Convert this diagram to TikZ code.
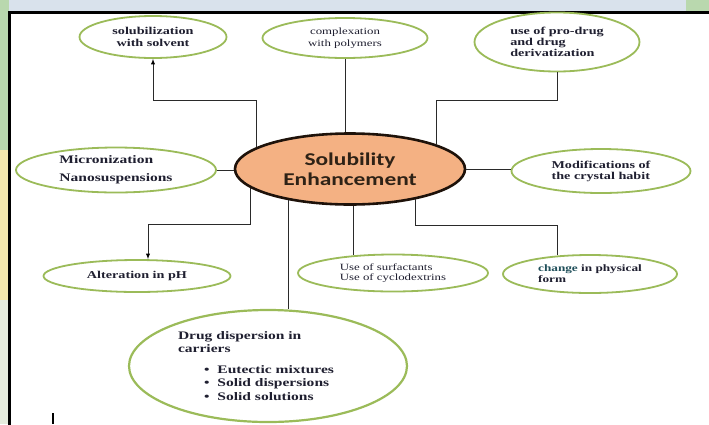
\documentclass[tikz,border=0pt]{standalone}
\usepackage{fontspec}
\newfontfamily\lblfont[FakeStretch=1.35]{Liberation Serif}
\newfontfamily\hubfont[FakeStretch=1.3]{Carlito}
\newcommand\lblsize[2]{\lblfont\fontsize{#1}{#2}\selectfont}
\usepackage{tikz}
\usetikzlibrary{shapes.geometric,arrows}

\definecolor{ideagreen}{HTML}{9BBB59}
\definecolor{hubfill}{HTML}{F4B183}
\definecolor{hubline}{HTML}{1E120A}
\definecolor{hubtext}{HTML}{2E2216}
\definecolor{labeltext}{HTML}{1F1F30}
\definecolor{chgteal}{HTML}{1F4F5A}
\definecolor{linkgrey}{HTML}{2A2A2A}
\definecolor{topstrip}{HTML}{D9E2EC}
\definecolor{edgegreen}{HTML}{B9D8AE}
\definecolor{edgeyellow}{HTML}{F3E7AE}
\definecolor{edgepale}{HTML}{E6ECDD}

\begin{document}
\begin{tikzpicture}[x=1pt, y=-1pt,
  idea/.style={ellipse, draw=ideagreen, line width=1.8pt, fill=white, inner sep=0pt, text=labeltext},
  hub/.style={ellipse, draw=hubline, line width=2.6pt, fill=hubfill, inner sep=0pt, text=hubtext,
    align=center, font={\hubfont\bfseries\fontsize{18}{20}\selectfont}},
  link/.style={draw=linkgrey, line width=0.9pt}]
  \clip (0,0) rectangle (709,424);
  % backdrop round the frame
  \fill[topstrip] (0,0) rectangle (709,12);
  \fill[edgegreen] (686,0) rectangle (709,12);
  \fill[edgegreen] (0,0) rectangle (9,150);
  \fill[edgeyellow] (0,150) rectangle (9,300);
  \fill[edgepale] (0,300) rectangle (9,424);
  \fill[white] (9,12) rectangle (709,424);
  \draw[line width=3pt] (9,440) -- (9,12) -- (720,12);

  \node[hub, minimum width=230pt, minimum height=71pt] (cen) at (350,169) {Solubility\\Enhancement};

  \node[idea, minimum width=147pt, minimum height=42pt, align=center,
        font={\lblsize{10.5}{12}\bfseries}] (sol) at (153,37) {solubilization\\with solvent};
  \node[idea, minimum width=165pt, minimum height=40pt, align=center,
        font={\lblsize{9.5}{12}}] (cpx) at (345,38) {complexation\\with polymers};
  \node[idea, minimum width=165pt, minimum height=59pt, align=left,
        font={\lblsize{10.5}{11}\bfseries}] (pro) at (557,42) {use of pro-drug\\and drug\\derivatization};
  \node[idea, minimum width=200pt, minimum height=45pt, align=left,
        font={\lblsize{11.5}{18}\bfseries}] (mic) at (116,170) {Micronization\\Nanosuspensions};
  \node[idea, minimum width=179pt, minimum height=44pt, align=left,
        font={\lblsize{10.5}{11}\bfseries}] (mod) at (601,171) {Modifications of\\the crystal habit};
  \node[idea, minimum width=187pt, minimum height=32pt,
        font={\lblsize{10.5}{12}\bfseries}] (alt) at (137,276) {Alteration in pH};
  \node[idea, minimum width=190pt, minimum height=37pt, align=left,
        font={\lblsize{9.5}{10.5}}] (sur) at (393,273) {Use of surfactants\\Use of cyclodextrins};
  \node[idea, minimum width=174pt, minimum height=38pt, align=left,
        font={\lblsize{9.8}{11}\bfseries}] (chg) at (590,274) {{\color{chgteal}change} in physical\\form};
  \node[idea, line width=2.2pt, minimum width=278pt, minimum height=112pt, align=left,
        font={\lblsize{11.5}{13.5}\bfseries}] (drg) at (268,366)
        {Drug dispersion in\\carriers\\[7pt]
         \hspace*{26pt}\textbullet\hspace{8pt}Eutectic mixtures\hspace{24pt}\null\\
         \hspace*{26pt}\textbullet\hspace{8pt}Solid dispersions\\
         \hspace*{26pt}\textbullet\hspace{8pt}Solid solutions};

  \path[link]
  (cen.167) edge[-latex, to path={|- ([yshift=-42pt]sol.south) -- (\tikztotarget)}] (sol.south)
  (cpx.south) edge (cpx.south |- cen.north)
  (cen.16) edge[to path={|- ([yshift=-28.5pt]pro.south) -- (\tikztotarget)}] (pro.south)
  (mic.east) edge (mic.east -| cen.west)
  (cen.east) edge (cen.east -| mod.west)
  (cen.191) edge[-latex, to path={|- ([xshift=11pt,yshift=35pt]alt.north) -- (\tikztotarget)}] ([xshift=11pt]alt.north)
  (cen.207) edge (cen.207 |- drg.north)
  (sur.156 |- cen.south) edge (sur.156)
  (cen.335) edge[to path={|- ([yshift=30.5pt]chg.150) -- (\tikztotarget)}] (chg.150)
  ;
  \draw[line width=1.4pt] (53,413) -- (53,424);
\end{tikzpicture}
\end{document}
